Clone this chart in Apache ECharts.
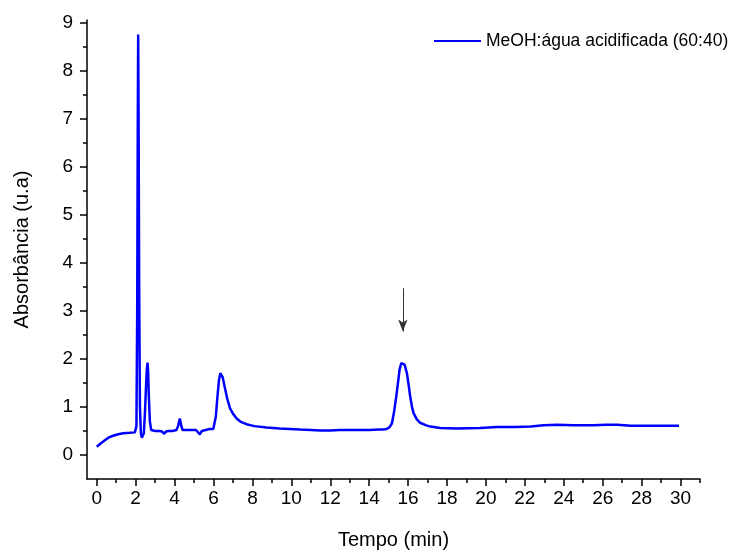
<!DOCTYPE html>
<html>
<head>
<meta charset="utf-8">
<script src="https://cdn.jsdelivr.net/npm/echarts@6/dist/echarts.min.js"></script>
<style>
  html, body { margin: 0; padding: 0; background: #fff; }
  #chart { width: 734px; height: 551px; }
</style>
</head>
<body>
<div id="chart"></div>
<script>
// Chromatogram: absorbance vs. retention time
const timeMin = [
  0, 0.2, 0.4, 0.6, 0.84, 1.1, 1.36, 1.7, 1.96,
  2.04, 2.08, 2.11, 2.13, 2.15, 2.18, 2.22, 2.27, 2.32, 2.37, 2.42,
  2.48, 2.54, 2.58, 2.61, 2.64, 2.68, 2.73, 2.8,
  3.0, 3.2, 3.35, 3.47, 3.56, 3.7, 3.9, 4.1, 4.18, 4.27, 4.35, 4.41,
  4.6, 4.9, 5.1, 5.2, 5.3, 5.4, 5.5, 5.8, 5.99,
  6.07, 6.12, 6.2, 6.28, 6.35, 6.4, 6.47, 6.59, 6.7, 6.85, 7.0, 7.19, 7.4, 7.7, 8.1, 8.73, 9.4, 10.45,
  11.0, 11.5, 12.0, 12.5, 13.0, 13.5, 14.0, 14.5,
  14.74, 14.9, 15.05, 15.17, 15.28, 15.39, 15.48, 15.56, 15.65, 15.73, 15.82, 15.94, 16.03, 16.11, 16.2, 16.28, 16.45, 16.62, 16.9, 17.14, 17.65,
  18.5, 19.7, 20.57, 21.5, 22.3, 22.97, 23.66, 24.5, 25.5, 26.2, 26.75, 27.43, 28.5, 29.92
];
const absorbance = [
  0.17, 0.24, 0.30, 0.36, 0.40, 0.43, 0.45, 0.46, 0.47,
  0.6, 3.0, 7.0, 8.75, 7.2, 3.5, 1.0, 0.45, 0.36, 0.33, 0.45,
  0.9, 1.5, 1.8, 1.92, 1.75, 1.2, 0.7, 0.52,
  0.50, 0.50, 0.49, 0.44, 0.49, 0.50, 0.50, 0.52, 0.60, 0.76, 0.60, 0.52,
  0.52, 0.52, 0.52, 0.50, 0.43, 0.50, 0.53, 0.54, 0.54,
  0.58, 0.80, 1.20, 1.55, 1.70, 1.71, 1.62, 1.39, 1.18, 0.97, 0.86, 0.76, 0.69, 0.64, 0.60, 0.57, 0.55, 0.53,
  0.52, 0.51, 0.51, 0.52, 0.52, 0.52, 0.52, 0.53,
  0.53, 0.54, 0.58, 0.66, 0.90, 1.21, 1.50, 1.77, 1.91, 1.94, 1.88, 1.70, 1.45, 1.21, 1.00, 0.87, 0.74, 0.67, 0.62, 0.59, 0.56,
  0.55, 0.56, 0.58, 0.58, 0.59, 0.62, 0.63, 0.62, 0.62, 0.63, 0.63, 0.61, 0.61, 0.61
];
const seriesName = 'MeOH:água acidificada (60:40)';

// axis ranges and tick positions
const xRange = [-0.5, 31];
const yRange = [-0.5, 9.05];
const xMajor = [0, 2, 4, 6, 8, 10, 12, 14, 16, 18, 20, 22, 24, 26, 28, 30];
const xMinor = [1, 3, 5, 7, 9, 11, 13, 15, 17, 19, 21, 23, 25, 27, 29, 31];
const yMajor = [0, 1, 2, 3, 4, 5, 6, 7, 8, 9];
const yMinor = [0.5, 1.5, 2.5, 3.5, 4.5, 5.5, 6.5, 7.5, 8.5];

// arrow marking the peak of interest
const arrowX = 15.73;
const arrowFrom = 3.47;
const arrowTo = 2.57;

const FONT = 'Arial, "Liberation Sans", sans-serif';
const points = timeMin.map((t, i) => [t, absorbance[i]]);

const chart = echarts.init(document.getElementById('chart'), null, { renderer: 'canvas' });

const axisLine = { show: true, onZero: false, lineStyle: { color: '#000', width: 1.5 } };
const tickStyle = { color: '#000', width: 1.5 };

chart.setOption({
  animation: false,
  backgroundColor: '#fff',
  grid: { left: 87, right: 34, top: 20, bottom: 72, containLabel: false, outerBoundsMode: 'none' },
  legend: {
    show: true,
    left: 434, top: 32,
    padding: 0,
    icon: 'rect',
    itemWidth: 47, itemHeight: 2,
    itemGap: 5,
    textStyle: { fontFamily: FONT, fontSize: 17.5, color: '#000' },
    data: [seriesName]
  },
  xAxis: [
    {
      type: 'value', min: xRange[0], max: xRange[1],
      name: 'Tempo (min)', nameLocation: 'middle', nameGap: 51,
      nameTextStyle: { fontFamily: FONT, fontSize: 20, color: '#000' },
      axisLine: axisLine,
      axisTick: { show: true, inside: false, length: 7, customValues: xMajor, lineStyle: tickStyle },
      axisLabel: { show: true, customValues: xMajor, margin: 10, fontFamily: FONT, fontSize: 19, color: '#000' },
      splitLine: { show: false }
    },
    {
      type: 'value', min: xRange[0], max: xRange[1], position: 'bottom',
      axisLine: { show: false, onZero: false },
      axisTick: { show: true, inside: false, length: 4, customValues: xMinor, lineStyle: tickStyle },
      axisLabel: { show: false },
      splitLine: { show: false }
    }
  ],
  yAxis: [
    {
      type: 'value', min: yRange[0], max: yRange[1],
      name: 'Absorbância (u.a)', nameLocation: 'middle', nameGap: 55,
      nameTextStyle: { fontFamily: FONT, fontSize: 20, color: '#000' },
      axisLine: axisLine,
      axisTick: { show: true, inside: false, length: 7, customValues: yMajor, lineStyle: tickStyle },
      axisLabel: { show: true, customValues: yMajor, margin: 14, fontFamily: FONT, fontSize: 19, color: '#000' },
      splitLine: { show: false }
    },
    {
      type: 'value', min: yRange[0], max: yRange[1], position: 'left',
      axisLine: { show: false, onZero: false },
      axisTick: { show: true, inside: false, length: 4, customValues: yMinor, lineStyle: tickStyle },
      axisLabel: { show: false },
      splitLine: { show: false }
    }
  ],
  series: [
    {
      name: seriesName,
      type: 'line',
      xAxisIndex: 0, yAxisIndex: 0,
      data: points,
      showSymbol: false,
      symbol: 'none',
      lineStyle: { color: '#0000ff', width: 2.5 },
      itemStyle: { color: '#0000ff' },
      markLine: {
        silent: true,
        animation: false,
        symbol: ['none', 'arrow'],
        symbolSize: [7, 12],
        label: { show: false },
        lineStyle: { color: '#333', width: 1, type: 'solid' },
        emphasis: { disabled: true },
        data: [[{ coord: [arrowX, arrowFrom] }, { coord: [arrowX, arrowTo] }]]
      }
    }
  ]
});
</script>
</body>
</html>
